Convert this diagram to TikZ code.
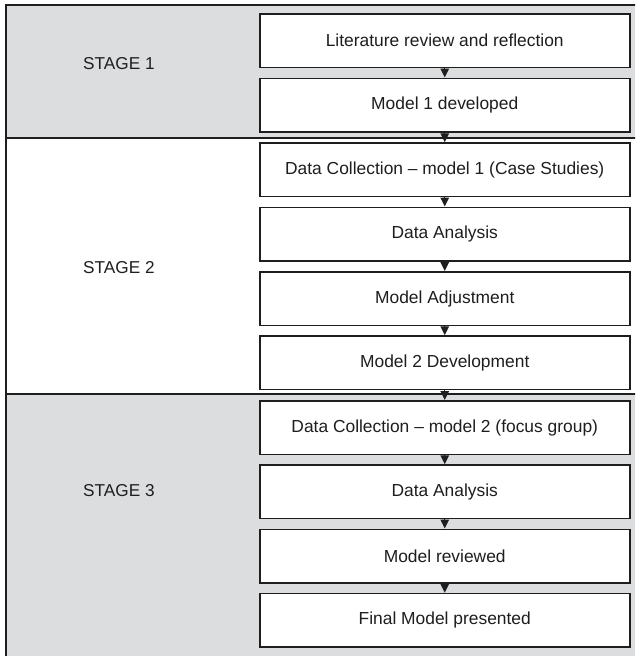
\documentclass[tikz,border=0pt]{standalone}
\usepackage{fontspec}
\setmainfont{Liberation Sans}
\usetikzlibrary{arrows.meta}
\definecolor{bandgray}{RGB}{220,221,223}
\definecolor{inkgray}{RGB}{30,30,30}
\tikzset{
  stepbox/.style={draw=inkgray, line width=1.5pt, fill=white,
    minimum width=370pt, minimum height=53.5pt, inner sep=0pt,
    font=\fontsize{17.4}{20}\selectfont, text=inkgray},
  stagelabel/.style={anchor=west, inner sep=0pt,
    font=\fontsize{17.2}{20}\selectfont, text=inkgray},
  frameline/.style={draw=inkgray, line width=1.8pt},
  flow/.style={draw=inkgray, line width=1.2pt,
    -{Triangle[width=8.5pt,length=9pt,fill=inkgray]}},
}
\begin{document}
\begin{tikzpicture}[x=1pt,y=-1pt]
\useasboundingbox (0,0) rectangle (635,656);
\clip (0,0) rectangle (635,656);

% stage bands
\fill[bandgray] (6,5) rectangle (645,138);
\fill[white]    (6,138) rectangle (645,394);
\fill[bandgray] (6,394) rectangle (645,665);
\draw[frameline] (645,5) -- (6,5) -- (6,665);
\draw[frameline] (6,138) -- (645,138);
\draw[frameline] (6,394) -- (645,394);

% stage labels
\node[stagelabel] (s1) at (83,64) {STAGE 1};
\node[stagelabel] (s2) at (83,268) {STAGE 2};
\node[stagelabel] (s3) at (83,491) {STAGE 3};

% process steps
\def\bx{444.75}
\node[stepbox] (b1)  at (\bx,40.75)  {Literature review and reflection};
\node[stepbox] (b2)  at (\bx,105)    {Model 1 developed};
\node[stepbox] (b3)  at (\bx,169.75) {Data Collection -- model 1 (Case Studies)};
\node[stepbox] (b4)  at (\bx,234)    {Data Analysis};
\node[stepbox] (b5)  at (\bx,298.5)  {Model Adjustment};
\node[stepbox] (b6)  at (\bx,362.75) {Model 2 Development};
\node[stepbox] (b7)  at (\bx,427.5)  {Data Collection -- model 2 (focus group)};
\node[stepbox] (b8)  at (\bx,491.75) {Data Analysis};
\node[stepbox] (b9)  at (\bx,556)    {Model reviewed};
\node[stepbox] (b10) at (\bx,620.25) {Final Model presented};

% flow between steps
\foreach \a/\b in {b1/b2,b2/b3,b3/b4,b4/b5,b5/b6,b6/b7,b7/b8,b8/b9,b9/b10}
  \draw[flow] (\a.south) -- (\b.north);
\end{tikzpicture}
\end{document}
